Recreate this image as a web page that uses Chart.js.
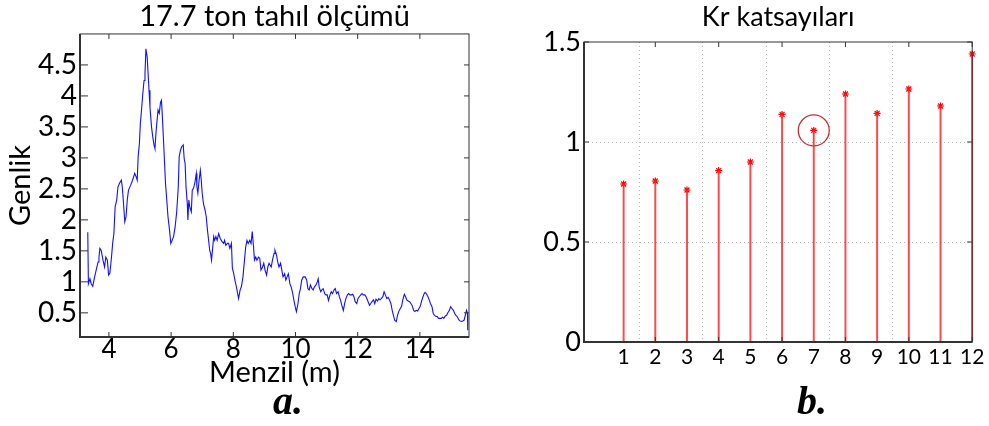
<!DOCTYPE html>
<html>
<head>
<meta charset="utf-8">
<script src="https://cdn.jsdelivr.net/npm/chart.js@4.4.0/dist/chart.umd.min.js"></script>
<style>
  body { margin: 0; background: #fff; width: 989px; height: 426px; position: relative; overflow: hidden; }
  #c1 { position: absolute; left: 0; top: 0; }
  #c2 { position: absolute; left: 489px; top: 0; }
  .tag { position: absolute; font-family: "Liberation Serif", serif; font-weight: bold; font-style: italic; font-size: 40px; line-height: 1; color: #000; }
</style>
</head>
<body>
<canvas id="c1" width="489" height="390"></canvas>
<canvas id="c2" width="500" height="390"></canvas>
<div class="tag" style="left:273px; top:381px;">a.</div>
<div class="tag" style="left:797px; top:381px;">b.</div>
<script>
// sol grafik: menzil (m) ve genlik
const menzil = [
  3.32,3.34,3.39,3.43,3.48,3.54,3.59,3.65,3.68,3.71,
  3.75,3.81,3.86,3.90,3.95,3.99,4.03,4.08,4.12,4.16,
  4.20,4.25,4.29,4.34,4.40,4.43,4.47,4.51,4.55,4.59,
  4.63,4.70,4.76,4.83,4.88,4.91,4.94,4.98,5.01,5.04,
  5.09,5.13,5.16,5.19,5.23,5.26,5.29,5.32,5.37,5.41,
  5.45,5.48,5.52,5.55,5.58,5.62,5.66,5.69,5.72,5.75,
  5.79,5.82,5.86,5.90,5.95,5.99,
  6.08,6.13,6.18,6.23,6.26,6.30,6.34,6.39,6.42,6.45,
  6.48,6.52,6.54,6.57,6.60,6.65,6.68,6.72,6.76,6.81,
  6.83,6.86,6.90,6.94,6.97,7.00,7.04,7.09,7.13,7.17,
  7.20,7.24,7.27,7.30,7.33,7.37,7.40,7.44,7.48,7.53,
  7.58,7.64,7.69,7.72,7.76,7.81,7.85,7.89,7.94,7.97,
  8.01,8.05,8.10,8.14,8.17,8.22,8.26,8.31,8.36,8.40,
  8.44,8.48,8.53,8.57,8.61,8.65,8.68,8.72,8.76,8.81,
  8.85,8.89,8.94,8.98,9.02,9.07,9.11,9.15,
  9.17,9.22,9.26,9.31,9.34,9.39,9.43,9.47,9.52,9.56,
  9.60,9.65,9.69,9.73,9.77,9.82,9.86,9.90,9.95,9.99,
  10.03,10.08,10.12,10.16,10.20,10.25,10.31,10.36,10.40,10.44,
  10.48,10.53,10.57,10.61,10.66,10.70,10.73,10.76,10.81,10.85,
  10.89,10.94,10.98,11.02,11.06,11.11,11.15,11.19,11.24,11.28,
  11.32,11.37,11.41,11.45,11.49,11.54,11.58,11.62,11.67,11.71,
  11.75,11.80,11.84,11.88,11.92,11.97,12.01,12.05,12.10,12.14,
  12.18,12.23,12.27,12.32,
  12.38,12.42,12.46,12.51,12.55,12.59,12.64,12.68,12.72,12.76,
  12.81,12.85,12.89,12.94,12.98,13.02,13.07,13.11,13.15,13.19,
  13.24,13.28,13.32,13.37,13.41,13.45,13.50,13.54,13.58,13.62,
  13.67,13.71,13.75,13.80,13.84,13.88,13.93,13.97,14.01,14.05,
  14.10,14.14,14.17,14.22,14.26,14.30,14.34,14.39,14.43,14.47,
  14.52,14.56,14.60,14.65,14.69,14.73,14.77,14.82,14.86,14.90,
  14.95,14.99,15.03,15.08,15.12,15.16,15.20,15.25,15.29,15.33,
  15.38,15.42,15.46,15.50,15.53,15.54
];
const genlik = [
  1.80,0.97,1.05,0.97,0.93,1.08,1.19,1.32,1.40,1.54,
  1.51,1.35,1.24,1.40,1.35,1.11,1.14,1.38,1.62,1.78,
  2.21,2.32,2.53,2.59,2.64,2.53,2.26,1.97,2.05,2.32,
  2.48,2.56,2.64,2.75,2.69,2.64,3.02,3.23,3.55,3.72,
  4.04,4.25,4.36,4.76,4.63,4.36,4.09,3.82,3.50,3.34,
  3.21,3.15,3.45,3.61,3.77,3.72,3.90,3.93,3.66,3.34,
  2.91,2.59,2.32,2.05,1.83,1.62,
  1.73,1.89,2.13,2.53,3.02,3.12,3.18,3.21,2.99,2.91,
  2.53,2.26,2.00,2.32,2.21,2.13,2.48,2.51,2.59,2.75,
  2.53,2.43,2.64,2.80,2.64,2.43,2.26,2.16,2.05,1.83,
  1.70,1.51,1.46,1.35,1.51,1.73,1.67,1.73,1.67,1.78,
  1.70,1.65,1.62,1.67,1.59,1.62,1.62,1.54,1.62,1.22,
  1.14,1.03,0.92,0.81,0.73,0.87,0.92,1.08,1.35,1.57,
  1.67,1.62,1.67,1.62,1.81,1.57,1.35,1.40,1.35,1.40,
  1.38,1.19,1.24,1.30,1.19,1.11,1.24,1.30,
  1.30,1.24,1.35,1.46,1.51,1.43,1.32,1.24,1.30,1.19,
  1.08,1.13,1.03,1.08,1.13,0.97,0.92,0.84,0.70,0.60,
  0.52,0.65,0.81,0.89,1.03,1.08,1.08,1.03,0.89,0.87,
  0.95,0.89,0.87,0.92,0.95,1.00,1.05,0.92,0.84,0.87,
  0.89,0.81,0.79,0.79,0.70,0.79,0.84,0.81,0.87,0.89,
  0.81,0.84,0.76,0.70,0.62,0.54,0.65,0.73,0.79,0.81,
  0.79,0.79,0.80,0.76,0.68,0.65,0.73,0.76,0.79,0.81,
  0.79,0.79,0.76,0.70,
  0.62,0.65,0.68,0.71,0.65,0.72,0.69,0.73,0.71,0.73,
  0.76,0.84,0.79,0.73,0.75,0.71,0.65,0.54,0.46,0.38,
  0.36,0.46,0.52,0.57,0.60,0.71,0.80,0.76,0.71,0.69,
  0.68,0.65,0.62,0.54,0.52,0.54,0.53,0.57,0.60,0.68,
  0.76,0.81,0.83,0.80,0.76,0.71,0.65,0.60,0.49,0.46,
  0.44,0.44,0.41,0.41,0.41,0.43,0.41,0.45,0.46,0.50,
  0.54,0.60,0.57,0.54,0.49,0.46,0.44,0.39,0.37,0.36,
  0.37,0.38,0.46,0.54,0.49,0.22
];
const menzilTicks = [4, 6, 8, 10, 12, 14];
const genlikTicks = [0.5, 1, 1.5, 2, 2.5, 3, 3.5, 4, 4.5];

// sag grafik: Kr katsayilari
const krNo = [1, 2, 3, 4, 5, 6, 7, 8, 9, 10, 11, 12];
const krDeger = [0.79, 0.805, 0.76, 0.857, 0.90, 1.138, 1.058, 1.24, 1.143, 1.265, 1.18, 1.44];
const krSecili = 7; // daire ile isaretlenen katsayi
const krTicks = [0, 0.5, 1, 1.5];

const fontAdi = 'Lato';
const sayiYaz = v => String(v);

// MATLAB tarzi kutu ve iceri bakan tik cizgileri
const kutuTik = {
  id: 'kutuTik',
  afterDraw(chart, args, o) {
    const { ctx, chartArea: a, scales } = chart;
    ctx.save();
    ctx.strokeStyle = '#333';
    ctx.lineWidth = 1;
    ctx.strokeRect(a.left, a.top, a.right - a.left, a.bottom - a.top);
    ctx.lineWidth = 2;
    ctx.beginPath();
    ctx.moveTo(a.left, a.top);
    ctx.lineTo(a.left, a.bottom);
    ctx.lineTo(a.right, a.bottom);
    ctx.stroke();
    ctx.lineWidth = 1;
    ctx.beginPath();
    scales.x.ticks.forEach(t => {
      if (o.xFiltre && !o.xFiltre(t.value)) return;
      const px = scales.x.getPixelForValue(t.value);
      ctx.moveTo(px, a.bottom); ctx.lineTo(px, a.bottom - 5);
      ctx.moveTo(px, a.top); ctx.lineTo(px, a.top + 5);
    });
    scales.y.ticks.forEach(t => {
      const py = scales.y.getPixelForValue(t.value);
      ctx.moveTo(a.left, py); ctx.lineTo(a.left + o.solBoy, py);
      ctx.moveTo(a.right, py); ctx.lineTo(a.right - 5, py);
    });
    ctx.stroke();
    ctx.restore();
  }
};

new Chart(document.getElementById('c1'), {
  type: 'line',
  data: {
    datasets: [{
      data: menzil.map((x, i) => ({ x: x, y: genlik[i] })),
      borderColor: '#1010ff',
      borderWidth: 1.1,
      pointRadius: 0,
      tension: 0,
      fill: false
    }]
  },
  options: {
    responsive: false,
    animation: false,
    layout: { padding: { left: 0, right: 20, top: 0, bottom: 0 } },
    plugins: {
      legend: { display: false },
      tooltip: { enabled: false },
      title: {
        display: true, text: '17.7 ton tahıl ölçümü', fullSize: false, color: '#000',
        font: { family: fontAdi, size: 29, weight: 'normal', lineHeight: 1.15 }, padding: { top: 0, bottom: 0.6 }
      },
      kutuTik: { solBoy: 8 }
    },
    scales: {
      x: {
        type: 'linear', min: 3.07, max: 15.58, offset: false,
        afterBuildTicks: s => { s.ticks = menzilTicks.map(v => ({ value: v })); },
        afterFit: s => { s.height = 53; },
        grid: { display: false, drawTicks: false },
        border: { display: false },
        ticks: { color: '#000', font: { family: fontAdi, size: 26, lineHeight: 1 }, padding: 0, maxRotation: 0, autoSkip: false, callback: sayiYaz },
        title: { display: true, text: 'Menzil (m)', color: '#000', font: { family: fontAdi, size: 29, lineHeight: 1 }, padding: { top: 0, bottom: 3 } }
      },
      y: {
        type: 'linear', min: 0.11, max: 5.0,
        afterBuildTicks: s => { s.ticks = genlikTicks.map(v => ({ value: v })); },
        afterFit: s => { s.width = 80; },
        grid: { display: false, drawTicks: false },
        border: { display: false },
        ticks: { color: '#000', font: { family: fontAdi, size: 28 }, padding: 3, autoSkip: false, callback: sayiYaz },
        title: { display: true, text: 'Genlik', color: '#000', font: { family: fontAdi, size: 29, lineHeight: 1 }, padding: { top: 6, bottom: 0 } }
      }
    }
  },
  plugins: [kutuTik]
});

new Chart(document.getElementById('c2'), {
  type: 'bar',
  data: {
    datasets: [
      {
        type: 'bar',
        data: krNo.map((x, i) => ({ x: x, y: krDeger[i] })),
        backgroundColor: 'rgba(255,40,40,0.85)',
        barThickness: 1.3,
        clip: false
      },
      {
        type: 'scatter',
        data: krNo.map((x, i) => ({ x: x, y: krDeger[i] })),
        pointStyle: 'star',
        pointRadius: 3.5,
        borderColor: '#ff0000',
        borderWidth: 1.2,
        clip: false
      },
      {
        type: 'scatter',
        data: [{ x: krSecili, y: krDeger[krNo.indexOf(krSecili)] }],
        pointStyle: 'circle',
        pointRadius: 15.5,
        borderColor: '#c62f2f',
        borderWidth: 1.3,
        backgroundColor: 'rgba(0,0,0,0)',
        clip: false
      }
    ]
  },
  options: {
    responsive: false,
    animation: false,
    layout: { padding: { left: 0, right: 15, top: 0, bottom: 0 } },
    plugins: {
      legend: { display: false },
      tooltip: { enabled: false },
      title: {
        display: true, text: 'Kr katsayıları', fullSize: false, color: '#000',
        font: { family: fontAdi, size: 27, weight: 'normal', lineHeight: 1.2 }, padding: { top: 1, bottom: 8.6 }
      },
      kutuTik: { solBoy: 5, xFiltre: v => v % 2 === 0 }
    },
    scales: {
      x: {
        type: 'linear', min: -0.25, max: 12, offset: false,
        afterBuildTicks: s => { s.ticks = krNo.map(v => ({ value: v })); },
        afterFit: s => { s.height = 48; },
        grid: {
          drawTicks: false, lineWidth: 1,
          color: c => (c.tick && c.tick.value % 2 === 0 && c.tick.value < 12) ? '#b8b8b8' : 'rgba(0,0,0,0)'
        },
        border: { display: false, dash: [1, 3] },
        ticks: { color: '#000', font: { family: fontAdi, size: 21 }, padding: 3, maxRotation: 0, autoSkip: false, callback: sayiYaz }
      },
      y: {
        type: 'linear', min: 0, max: 1.5,
        afterBuildTicks: s => { s.ticks = krTicks.map(v => ({ value: v })); },
        afterFit: s => { s.width = 95; },
        grid: {
          drawTicks: false, lineWidth: 1,
          color: c => (c.tick && c.tick.value > 0 && c.tick.value < 1.5) ? '#b8b8b8' : 'rgba(0,0,0,0)'
        },
        border: { display: false, dash: [1, 3] },
        ticks: { color: '#000', font: { family: fontAdi, size: 27 }, padding: 3, autoSkip: false, callback: sayiYaz }
      }
    }
  },
  plugins: [kutuTik]
});
</script>
</body>
</html>
